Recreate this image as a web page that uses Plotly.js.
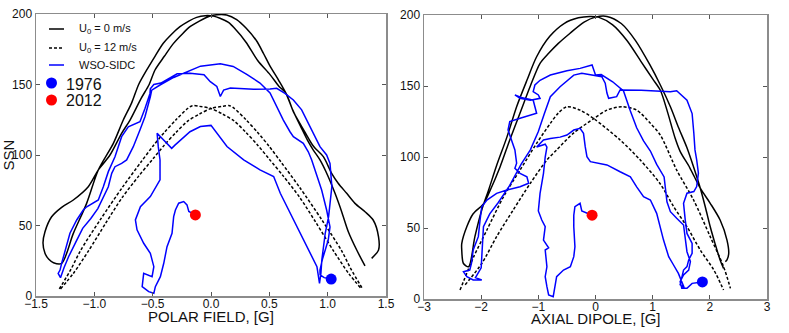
<!DOCTYPE html>
<html>
<head>
<meta charset="utf-8">
<script src="https://cdn.plot.ly/plotly-3.0.1.min.js"></script>
<style>
  body { margin: 0; background: #fff; }
  #myDiv { width: 789px; height: 333px; }
</style>
</head>
<body>
<div id="myDiv"></div>
<script>
// ---- left panel: polar field vs SSN ----
var polarSolidX = [1.32, 1.249, 1.177, 1.12, 1.063, 1.005, 0.934, 0.877, 0.83, 0.77, 0.70, 0.643, 0.58, 0.506, 0.45, 0.39, 0.3, 0.22, 0.134, 0.05, -0.009, -0.1, -0.18, -0.25, -0.323, -0.4, -0.48, -0.53, -0.6, -0.694, -0.766, -0.866, -0.966, -1.052, -1.18, -1.28, -1.366, -1.423, -1.44, -1.423, -1.39, -1.35, -1.28,
  -1.18, -1.066, -0.966, -0.837, -0.752, -0.68, -0.62, -0.551, -0.48, -0.409, -0.34, -0.266, -0.19, -0.123, -0.05, 0.02, 0.077, 0.15, 0.2, 0.3, 0.4, 0.506, 0.58, 0.643, 0.71, 0.80, 0.88, 0.963, 1.034, 1.09, 1.163, 1.234, 1.32, 1.39, 1.436, 1.436, 1.377];
var polarSolidY = [21.3, 32.6, 45.6, 59.8, 72.8, 84.6, 96.5, 103.5, 110, 120, 132, 143.7, 153, 163, 172, 181, 190, 196, 199.3, 199.5, 198.6, 195, 191, 185.5, 179, 170, 160.3, 150, 140, 124.8, 115.4, 100, 89.4, 77.5, 68.1, 62.9, 56.2, 45.6, 37.6, 30.3, 26, 23.6, 23.2,
  44.4, 65.7, 89.4, 108.3, 124.8, 137, 150, 160.3, 170, 179.2, 185.5, 191, 195, 197.6, 198.8, 198.5, 197, 194, 190, 180, 167, 157, 149, 143.7, 130, 117, 106, 98.8, 87, 80, 72.8, 65.7, 59.8, 53.9, 42, 32.7, 26.7];

var polarDashAX = [-1.30, -1.20, -1.12, -0.95, -0.76, -0.6, -0.5, -0.4, -0.3, -0.2, -0.16, -0.1, 0.0, 0.1, 0.2, 0.3, 0.4, 0.5, 0.62, 0.76, 0.9, 1.05, 1.18, 1.29];
var polarDashAY = [5, 19, 32, 54, 77, 95, 106, 116, 125, 133, 135, 134.5, 133, 129, 124, 116, 107, 97, 85, 70, 52, 32, 16, 5];
var polarDashBX = [-1.29, -1.18, -1.05, -0.9, -0.76, -0.62, -0.5, -0.4, -0.3, -0.2, -0.1, 0.0, 0.1, 0.16, 0.2, 0.3, 0.4, 0.5, 0.6, 0.76, 0.95, 1.12, 1.20, 1.30];
var polarDashBY = [5, 16, 32, 52, 70, 85, 97, 107, 116, 124, 129, 133, 134.5, 135, 133, 125, 116, 106, 95, 77, 54, 32, 19, 5];

var polarObsX = [1.03, 0.97, 0.935, 0.934, 0.955, 0.977, 1.005, 1.02, 0.991, 0.949, 0.891, 0.863, 0.834, 0.791, 0.706, 0.677, 0.62, 0.549, 0.506, 0.42, 0.31, 0.19, 0.08, -0.09, -0.2, -0.32, -0.43, -0.508,
  -0.52, -0.566, -0.609, -0.666, -0.723, -0.766, -0.823, -0.851, -0.88, -0.923, -0.97, -1.03, -1.1, -1.16, -1.22, -1.26, -1.29,
  -1.31, -1.294, -1.28, -1.251, -1.209, -1.151, -1.095, -1.065, -1.009, -0.966, -0.923, -0.88, -0.823, -0.766, -0.709, -0.609, -0.566, -0.523, -0.52, -0.49, -0.43, -0.29, -0.18, -0.06, -0.006, 0.05, 0.08, 0.108, 0.166, 0.365, 0.506, 0.563, 0.634, 0.706, 0.777, 0.82, 0.877, 0.934, 0.991, 1.02, 1.036, 1.008, 0.979, 0.95, 0.942, 0.93,
  0.908, 0.85, 0.765, 0.68, 0.594, 0.537, 0.42, 0.28, 0.137, 0.0, -0.091, -0.18, -0.266, -0.309, -0.337, -0.38, -0.434, -0.462, -0.452, -0.437, -0.437, -0.52, -0.605, -0.648, -0.634, -0.577, -0.52, -0.49, -0.505, -0.577, -0.59, -0.534, -0.49, -0.477, -0.434, -0.405, -0.377, -0.334, -0.32, -0.305, -0.277, -0.234, -0.206, -0.19, -0.134];
var polarObsY = [12, 13, 15, 18.4, 26, 32.6, 39.7, 49, 61, 75, 90, 96.5, 102.3, 108.3, 113, 116.5, 124.8, 136.7, 144, 151, 157, 162.8, 164.7, 163, 159, 155, 150, 146,
  141.3, 127.2, 117.7, 105.9, 96.5, 94.1, 91.7, 87, 77.5, 70.4, 62, 55, 48, 38, 28, 20, 13,
  16, 18.4, 23.2, 32.6, 44.5, 53.9, 61, 63.3, 65.7, 68.1, 77.5, 88.2, 98.8, 113, 120, 123.6, 133, 143.7, 147, 150, 151, 157.6, 158, 157, 152, 148.6, 141.5, 146, 147.5, 146.7, 146.8, 147.3, 143.7, 139, 132, 124.8, 115.4, 105.9, 100, 94, 77.6, 56.3, 44.5, 25.6, 16, 9,
  20.8, 30.3, 44.5, 58.7, 72.9, 84.7, 89.5, 96.6, 106, 121, 120.2, 116.5, 110.6, 107, 104.7, 108.3, 113, 115.5, 105.9, 96.5, 82.4, 70.5, 63.4, 54, 46.9, 37.4, 30.3, 20.8, 13.7, 16.1, 6.6, 3.1, 1.9, 6.6, 13.7, 23.2, 35, 44.5, 56.3, 61, 65.8, 67, 64.6, 59.9, 57.5];

// ---- right panel: axial dipole vs SSN ----
var axialSolidX = [2.24, 2.18, 2.09, 2.007, 1.92, 1.833, 1.72, 1.6, 1.454, 1.31, 1.134, 0.95, 0.7, 0.45, 0.2, 0.0, -0.2, -0.45, -0.65, -0.82, -0.97, -1.14, -1.32, -1.5, -1.67, -1.84, -1.96, -2.14, -2.25, -2.34, -2.34, -2.31, -2.22,
  -2.11, -1.99, -1.87, -1.73, -1.55, -1.38, -1.2, -1.03, -0.8, -0.55, -0.3, -0.1, 0.05, 0.3, 0.55, 0.8, 1.0, 1.134, 1.25, 1.395, 1.48, 1.65, 1.833, 2.007, 2.18, 2.3, 2.33, 2.3, 2.27];
var axialSolidY = [21.6, 27.5, 39.2, 50.9, 65, 78, 92.4, 106.5, 120.6, 135.4, 150.7, 165, 182, 194, 199, 198.5, 195, 187, 180, 173, 166, 150, 131, 112, 93, 76.8, 67, 60, 51, 39, 34.5, 25, 22.7,
  43.9, 62.7, 76.8, 94, 114, 135.4, 154, 170.6, 185, 194, 198, 199, 198.5, 193, 182, 167, 155, 147, 133, 113, 104, 92.4, 78, 67.4, 55.6, 41.5, 32, 27.5, 26.3];

var axialDashAX = [-2.37, -2.13, -1.9, -1.61, -1.32, -1.03, -0.79, -0.65, -0.5, -0.27, -0.03, 0.43, 0.78, 1.134, 1.367, 1.6, 1.833, 2.07, 2.24];
var axialDashAY = [6.3, 29.8, 48.6, 72, 90.8, 109.6, 123.7, 131, 135.4, 133, 127, 112, 98, 81, 65, 50.9, 34.5, 20.4, 6.3];
var axialDashBX = [-2.28, -1.99, -1.73, -1.44, -1.14, -0.85, -0.68, -0.38, -0.03, 0.2, 0.46, 0.72, 0.96, 1.134, 1.42, 1.716, 2.007, 2.24, 2.36];
var axialDashBY = [10, 25, 43.9, 62.7, 81.5, 97.9, 105, 117, 127, 133, 135.4, 133, 123.7, 115.4, 90.8, 69.7, 43.9, 22.8, 7.5];

var axialObsX = [1.87, 1.69, 1.6, 1.51, 1.48, 1.54, 1.63, 1.66, 1.6, 1.57, 1.54, 1.42, 1.31, 1.25, 1.22, 1.2, 1.07, 0.96, 0.84, 0.72, 0.61, 0.49, 0.3, 0.1, 0.0, -0.06, -0.27, -0.5, -0.79, -0.97, -1.06, -1.09, -1.0, -0.97, -1.14, -1.32, -1.41, -1.3, -1.09, -1.03, -1.32, -1.5, -1.53, -1.47, -1.41, -1.38, -1.41, -1.32, -1.2, -1.17, -1.32, -1.55, -1.73, -1.9, -1.99, -2.02, -2.05, -2.14, -2.17, -2.2, -2.31, -2.25, -2.14, -1.99, -2.1,
  -2.0, -1.98, -1.96, -1.85, -1.7, -1.5, -1.3, -1.14, -1.0, -0.9, -0.79, -0.62, -0.38, -0.24, -0.09, 0.11, 0.17, 0.2, 0.23, 0.37, 0.43, 0.8, 1.31, 1.42, 1.6, 1.69, 1.72, 1.74, 1.77, 1.8, 1.77, 1.72, 1.6, 1.54, 1.57, 1.6, 1.69, 1.69, 1.63, 1.6, 1.54, 1.51, 1.48, 1.55,
  1.45, 1.35, 1.28, 1.19, 1.13, 1.07, 0.96, 0.84, 0.72, 0.61, 0.43, 0.2, -0.09, -0.15, -0.18, -0.21, -0.27, -0.38, -0.5, -0.62, -0.79, -0.91, -1.03, -0.88, -0.85, -0.88, -0.91, -0.97, -1.0, -0.94, -0.88, -0.91, -0.82, -0.88, -0.85, -0.88, -0.85, -0.82, -0.74, -0.71, -0.68, -0.56, -0.44, -0.38, -0.36, -0.38, -0.38, -0.36, -0.27, -0.24, -0.06];
var axialObsY = [12, 11, 7.5, 7.5, 12.2, 16.9, 20.4, 26.3, 33.3, 42.7, 52.1, 56.8, 61.5, 68.5, 77.9, 86, 94.8, 104.2, 111.3, 120.6, 132.4, 146.5, 153, 158, 157.7, 164.8, 162.4, 160.8, 157.7, 154, 150.7, 146, 143.7, 141.3, 140, 141.3, 143.7, 142, 140, 130.8, 127.3, 124.9, 119, 112, 105, 95.6, 92, 88.5, 86.1, 81.5, 79.1, 76.8, 74.4, 69.7, 65, 55.6, 43.9, 34.5, 25.1, 20.4, 19.2, 15.7, 13.4, 13.4, 15,
  22, 35, 51, 60, 68, 80, 95, 105, 118, 130, 142.5, 149.5, 157.7, 159, 157.7, 156.5, 152, 145, 141.3, 142.5, 147.2, 147, 146, 146.7, 140, 130.6, 116.7, 105, 98, 88.6, 79.2, 75.7, 74.5, 67.4, 55.6, 46.2, 39.2, 32.2, 27.5, 22.8, 20.4, 15.7, 10, 8,
  18, 25, 29.8, 41.5, 50.9, 60.3, 69.7, 72, 79, 86.1, 89.6, 94.4, 96.7, 100.2, 107.3, 116.7, 120.2, 119, 115.5, 114, 113, 112, 107, 109, 107, 100, 88.5, 74.4, 62, 55.6, 50.9, 41.5, 36, 34.5, 22.7, 15.7, 8.7, 2.8, 1.6, 8.7, 15.7, 20.4, 22.7, 29.8, 36.8, 50.9, 59, 65, 67.4, 62, 59];

// start (1976) and end (2012) points
var polarStart = [1.03, 12], polarEnd = [-0.134, 57.5];
var axialStart = [1.87, 12], axialEnd = [-0.06, 59];

// legend entries
var legendLines = ['U<sub>0</sub> = 0 m/s', 'U<sub>0</sub> = 12 m/s', 'WSO-SIDC'];
var legendYears = ['1976', '2012'];

var blue = '#0000ff', red = '#ff0000';
var fam = 'Liberation Sans, Arial, sans-serif';
var dashPat = '3px,2px';

function lineTrace(x, y, xa, ya, color, dash, smooth) {
  return {
    x: x, y: y, xaxis: xa, yaxis: ya, type: 'scatter', mode: 'lines',
    showlegend: false, hoverinfo: 'skip',
    line: {color: color, width: 1.5, dash: dash || 'solid',
           shape: smooth ? 'spline' : 'linear', smoothing: 0.8}
  };
}
function dot(p, xa, ya, color) {
  return {x: [p[0]], y: [p[1]], xaxis: xa, yaxis: ya, type: 'scatter', mode: 'markers',
          showlegend: false, marker: {color: color, size: 11}};
}

var data = [
  lineTrace(polarSolidX, polarSolidY, 'x', 'y', '#000', 'solid', true),
  lineTrace(polarDashAX, polarDashAY, 'x', 'y', '#000', dashPat, true),
  lineTrace(polarDashBX, polarDashBY, 'x', 'y', '#000', dashPat, true),
  lineTrace(polarObsX, polarObsY, 'x', 'y', blue, 'solid', false),
  dot(polarStart, 'x', 'y', blue),
  dot(polarEnd, 'x', 'y', red),
  lineTrace(axialSolidX, axialSolidY, 'x2', 'y2', '#000', 'solid', true),
  lineTrace(axialDashAX, axialDashAY, 'x2', 'y2', '#000', dashPat, true),
  lineTrace(axialDashBX, axialDashBY, 'x2', 'y2', '#000', dashPat, true),
  lineTrace(axialObsX, axialObsY, 'x2', 'y2', blue, 'solid', false),
  dot(axialStart, 'x2', 'y2', blue),
  dot(axialEnd, 'x2', 'y2', red)
];

var tickFont = {family: fam, size: 12, color: '#111'};
var titleFont = {family: fam, size: 15, color: '#111'};
function axisBase() {
  return {
    showline: true, mirror: 'ticks', linecolor: '#8c8c8c', linewidth: 1.5,
    ticks: 'inside', ticklen: 4, tickcolor: '#555', tickwidth: 1,
    showgrid: false, zeroline: false, tickfont: tickFont, fixedrange: true, automargin: false
  };
}

// plot area runs from y=14 to y=299 px; the left panel sits 3 px higher at the bottom
var xaxis = Object.assign(axisBase(), {domain: [0, 0.4788], range: [-1.5, 1.5], dtick: 0.5, tick0: -1.5, tickformat: '.1f',
  anchor: 'y', ticklabelstandoff: -4});
var yaxis = Object.assign(axisBase(), {domain: [3 / 285, 1], range: [0, 200], dtick: 50, anchor: 'x',
  title: {text: 'SSN', font: titleFont, standoff: 0}});
var xaxis2 = Object.assign(axisBase(), {domain: [0.5308, 1], range: [-3, 3], dtick: 1, anchor: 'y2',
  ticklabelstandoff: -4});
var yaxis2 = Object.assign(axisBase(), {domain: [0, 1 - 1 / 285], range: [0, 200], dtick: 50, anchor: 'x2'});

// pixel -> paper helpers for the hand-placed legend block inside the left panel
var px = function (v) { return (v - 36) / 731; };
var py = function (v) { return (299 - v) / 285; };

var annotations = [
  {xref: 'x domain', yref: 'paper', x: 0.5, y: py(316.5), xanchor: 'center', yanchor: 'middle', showarrow: false,
   text: 'POLAR FIELD, [G]', font: titleFont},
  {xref: 'x2 domain', yref: 'paper', x: 0.5, y: py(318.5), xanchor: 'center', yanchor: 'middle', showarrow: false,
   text: 'AXIAL DIPOLE, [G]', font: titleFont}
];
var shapes = [];
var lineRows = [29, 48, 65], lineColors = ['#000', '#000', blue], lineDash = ['solid', dashPat, 'solid'];
legendLines.forEach(function (t, i) {
  shapes.push({type: 'line', xref: 'paper', yref: 'paper', x0: px(49), x1: px(64), y0: py(lineRows[i]), y1: py(lineRows[i]),
               line: {color: lineColors[i], width: 1.5, dash: lineDash[i]}});
  annotations.push({xref: 'paper', yref: 'paper', x: px(77), y: py(lineRows[i]), xanchor: 'left', yanchor: 'middle',
                    showarrow: false, text: t, font: {family: fam, size: 11, color: '#111'}});
});
var yearRows = [83, 100], yearColors = [blue, red];
legendYears.forEach(function (t, i) {
  shapes.push({type: 'circle', xref: 'paper', yref: 'paper', xsizemode: 'pixel', ysizemode: 'pixel',
               xanchor: px(51.5), yanchor: py(yearRows[i]), x0: -5.5, x1: 5.5, y0: -5.5, y1: 5.5,
               fillcolor: yearColors[i], line: {width: 0}});
  annotations.push({xref: 'paper', yref: 'paper', x: px(64), y: py(yearRows[i] + 1), xanchor: 'left', yanchor: 'middle',
                    showarrow: false, text: t, font: {family: fam, size: 16, color: '#111'}});
});

var layout = {
  width: 789, height: 333,
  margin: {l: 36, r: 22, t: 14, b: 34},
  paper_bgcolor: '#fff', plot_bgcolor: '#fff',
  font: {family: fam, color: '#111'},
  xaxis: xaxis, yaxis: yaxis, xaxis2: xaxis2, yaxis2: yaxis2,
  showlegend: false,
  annotations: annotations,
  shapes: shapes
};

Plotly.newPlot('myDiv', data, layout, {displayModeBar: false, staticPlot: true});
</script>
</body>
</html>
